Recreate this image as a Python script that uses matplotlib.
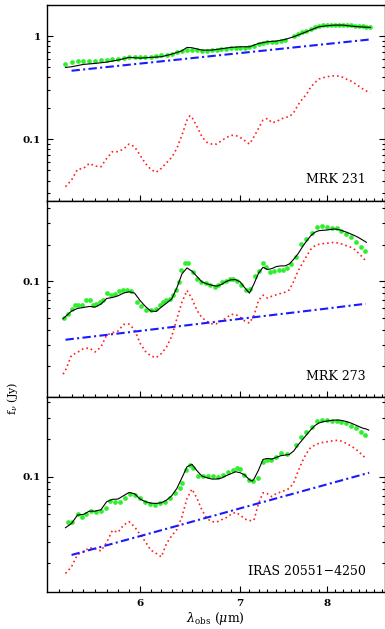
import matplotlib
matplotlib.use('Agg')
import numpy as np
import matplotlib.pyplot as plt
from matplotlib.ticker import FixedLocator, FuncFormatter, NullFormatter, LogLocator

########################### DATA ###########################
# MRK 231
mrk231_obs_wl = [5.35, 5.40, 5.45, 5.50, 5.55, 5.60, 5.65, 5.70, 5.75, 5.80, 5.85, 5.90, 5.95, 6.00,
                 6.05, 6.10, 6.15, 6.20, 6.25, 6.30, 6.35, 6.40, 6.45, 6.50, 6.55, 6.60, 6.65, 6.70,
                 6.75, 6.80, 6.85, 6.90, 6.95, 7.00, 7.05, 7.10, 7.15, 7.20, 7.25, 7.30, 7.35, 7.40,
                 7.45, 7.50, 7.60, 7.65, 7.70, 7.75, 7.80, 7.85, 7.90, 7.95, 8.00, 8.05, 8.10, 8.15,
                 8.20, 8.25, 8.30, 8.35, 8.40, 8.45, 8.50, 8.55]
mrk231_obs = [0.532, 0.560, 0.569, 0.573, 0.573, 0.577, 0.581, 0.590, 0.594, 0.603, 0.617, 0.622, 0.622, 0.622,
              0.626, 0.631, 0.640, 0.650, 0.660, 0.675, 0.695, 0.716, 0.738, 0.732, 0.727, 0.721, 0.721, 0.727,
              0.732, 0.743, 0.754, 0.760, 0.765, 0.771, 0.771, 0.782, 0.800, 0.831, 0.856, 0.869, 0.875, 0.882,
              0.895, 0.908, 1.007, 1.053, 1.093, 1.126, 1.169, 1.213, 1.250, 1.268, 1.278, 1.287, 1.287, 1.287,
              1.287, 1.278, 1.268, 1.259, 1.250, 1.240, 1.231, 1.213]
mrk231_wl = [5.35, 5.40, 5.50, 5.60, 5.70, 5.80, 5.90, 6.00, 6.10, 6.20, 6.30, 6.40, 6.45, 6.50,
             6.60, 6.70, 6.80, 6.90, 7.00, 7.10, 7.20, 7.30, 7.40, 7.50, 7.60, 7.70, 7.80, 7.90,
             8.00, 8.10, 8.20, 8.30, 8.40, 8.55]
mrk231_model = [0.497, 0.505, 0.532, 0.544, 0.560, 0.586, 0.622, 0.612, 0.622, 0.631, 0.669, 0.721, 0.777, 0.771,
                0.732, 0.732, 0.754, 0.777, 0.788, 0.788, 0.849, 0.882, 0.895, 0.928, 0.985, 1.061, 1.143, 1.231,
                1.259, 1.278, 1.278, 1.250, 1.231, 1.213]
mrk231_pah_wl = [5.35, 5.40, 5.45, 5.50, 5.55, 5.60, 5.65, 5.70, 5.75, 5.80, 5.85, 5.90, 5.95, 6.00,
                 6.05, 6.10, 6.15, 6.20, 6.25, 6.30, 6.35, 6.40, 6.45, 6.48, 6.50, 6.55, 6.60, 6.65,
                 6.70, 6.75, 6.80, 6.85, 6.90, 6.95, 7.00, 7.05, 7.10, 7.15, 7.20, 7.25, 7.30, 7.35,
                 7.40, 7.45, 7.50, 7.55, 7.60, 7.65, 7.70, 7.75, 7.80, 7.85, 7.90, 7.95, 8.00, 8.05,
                 8.10, 8.15, 8.20, 8.25, 8.30, 8.35, 8.40, 8.45, 8.50, 8.55]
mrk231_pah = [0.0348, 0.0404, 0.0513, 0.0524, 0.0586, 0.0552, 0.0544, 0.0655, 0.0760, 0.0760, 0.0806, 0.0901, 0.0849, 0.0705,
              0.0586, 0.0513, 0.0480, 0.0524, 0.0594, 0.0670, 0.0818, 0.110, 0.154, 0.1695, 0.163, 0.133, 0.106, 0.0935,
              0.0901, 0.0901, 0.0971, 0.1038, 0.1094, 0.1094, 0.1046, 0.0971, 0.0901, 0.106, 0.1277, 0.154, 0.1597, 0.145,
              0.1483, 0.157, 0.163, 0.166, 0.181, 0.215, 0.244, 0.272, 0.319, 0.353, 0.384, 0.395, 0.404, 0.410,
              0.413, 0.410, 0.398, 0.381, 0.367, 0.348, 0.328, 0.309, 0.294, 0.283]
mrk231_cont_wl = [5.40, 6.00, 7.00, 8.00, 8.55]
mrk231_cont = [0.462, 0.542, 0.685, 0.839, 0.928]

# MRK 273
mrk273_obs_wl = [5.339, 5.372, 5.400, 5.428, 5.456, 5.491, 5.520, 5.554, 5.582, 5.611, 5.640, 5.669, 5.704, 5.742,
                 5.771, 5.810, 5.845, 5.881, 5.921, 5.972, 6.012, 6.059, 6.106, 6.152, 6.184, 6.216, 6.248, 6.280,
                 6.312, 6.344, 6.370, 6.393, 6.429, 6.462, 6.508, 6.548, 6.593, 6.637, 6.678, 6.730, 6.764, 6.809,
                 6.851, 6.886, 6.921, 6.964, 7.011, 7.065, 7.108, 7.156, 7.200, 7.248, 7.285, 7.330, 7.379, 7.436,
                 7.482, 7.520, 7.570, 7.628, 7.687, 7.746, 7.818, 7.874, 7.935, 7.996, 8.058, 8.120, 8.174, 8.237,
                 8.301, 8.365, 8.429, 8.486]
mrk273_obs = [0.0494, 0.0533, 0.0593, 0.0632, 0.0632, 0.0640, 0.0703, 0.0694, 0.0632, 0.0644, 0.0673, 0.0703, 0.0797, 0.0773,
              0.0778, 0.0828, 0.0849, 0.0839, 0.0828, 0.0673, 0.0620, 0.0582, 0.0575, 0.0593, 0.0632, 0.0673, 0.0694, 0.0716,
              0.0763, 0.0839, 0.0981, 0.1239, 0.1413, 0.1404, 0.1185, 0.1045, 0.0981, 0.0963, 0.0922, 0.0904, 0.0922, 0.0981,
              0.1013, 0.1038, 0.1038, 0.1013, 0.0922, 0.0839, 0.0865, 0.1113, 0.1208, 0.1413, 0.1302, 0.1200, 0.1223, 0.1239,
              0.1239, 0.1278, 0.1387, 0.1573, 0.2023, 0.2223, 0.2473, 0.2771, 0.2860, 0.2806, 0.2736, 0.2736, 0.2602, 0.2443,
              0.2295, 0.2088, 0.1900, 0.1762]
mrk273_wl = [5.33, 5.40, 5.45, 5.50, 5.55, 5.60, 5.65, 5.70, 5.75, 5.80, 5.85, 5.90, 5.95, 6.00,
             6.05, 6.10, 6.15, 6.20, 6.25, 6.30, 6.35, 6.40, 6.45, 6.50, 6.55, 6.60, 6.65, 6.70,
             6.75, 6.80, 6.85, 6.90, 6.95, 7.00, 7.05, 7.10, 7.15, 7.20, 7.25, 7.30, 7.35, 7.40,
             7.45, 7.50, 7.55, 7.60, 7.65, 7.70, 7.75, 7.80, 7.85, 7.90, 7.95, 8.00, 8.05, 8.10,
             8.15, 8.20, 8.25, 8.30, 8.35, 8.40, 8.45, 8.50]
mrk273_model = [0.0491, 0.0568, 0.0597, 0.0608, 0.0620, 0.0612, 0.0648, 0.0721, 0.0734, 0.0758, 0.0798, 0.0818, 0.0798, 0.0694,
                0.0620, 0.0568, 0.0564, 0.0612, 0.0660, 0.0716, 0.0882, 0.1148, 0.1286, 0.1208, 0.1092, 0.0987, 0.0951, 0.0927,
                0.0910, 0.0939, 0.0994, 0.1026, 0.1031, 0.0987, 0.0882, 0.0798, 0.0951, 0.1163, 0.1302, 0.1246, 0.1270, 0.1319,
                0.1336, 0.1336, 0.1387, 0.1515, 0.1675, 0.1900, 0.2128, 0.2352, 0.2522, 0.2602, 0.2620, 0.2635, 0.2668, 0.2685,
                0.2652, 0.2586, 0.2522, 0.2443, 0.2367, 0.2280, 0.2182, 0.2088]
mrk273_pah_wl = [5.33, 5.35, 5.40, 5.45, 5.50, 5.55, 5.60, 5.65, 5.70, 5.75, 5.80, 5.85, 5.90, 5.95,
                 6.00, 6.05, 6.10, 6.15, 6.20, 6.25, 6.30, 6.35, 6.40, 6.45, 6.50, 6.55, 6.60, 6.65,
                 6.70, 6.75, 6.80, 6.85, 6.90, 6.95, 7.00, 7.05, 7.10, 7.15, 7.20, 7.25, 7.30, 7.35,
                 7.40, 7.45, 7.50, 7.55, 7.60, 7.65, 7.70, 7.75, 7.80, 7.85, 7.90, 7.95, 8.00, 8.05,
                 8.10, 8.15, 8.20, 8.25, 8.30, 8.35, 8.40, 8.45, 8.50]
mrk273_pah = [0.0172, 0.0185, 0.0246, 0.0260, 0.0279, 0.0282, 0.0262, 0.0288, 0.0361, 0.0377, 0.0389, 0.0441, 0.0444, 0.0399,
              0.0310, 0.0265, 0.0243, 0.0235, 0.0254, 0.0288, 0.0352, 0.0491, 0.0673, 0.0839, 0.0716, 0.0575, 0.0501, 0.0467,
              0.0447, 0.0447, 0.0476, 0.0497, 0.0533, 0.0533, 0.0507, 0.0470, 0.0452, 0.0523, 0.0694, 0.0768, 0.0726, 0.0753,
              0.0773, 0.0793, 0.0812, 0.0849, 0.0994, 0.1208, 0.1387, 0.1593, 0.1818, 0.1949, 0.2010, 0.2035, 0.2048, 0.2075,
              0.2088, 0.2048, 0.2010, 0.1949, 0.1900, 0.1818, 0.1697, 0.1573, 0.1449]
mrk273_cont_wl = [5.35, 6.00, 7.00, 8.00, 8.49]
mrk273_cont = [0.0330, 0.0390, 0.0490, 0.0596, 0.0652]

# IRAS 20551-4250
iras_obs_wl = [5.367, 5.400, 5.456, 5.491, 5.525, 5.568, 5.611, 5.654, 5.692, 5.727, 5.771, 5.816, 5.860, 5.906,
               5.951, 5.997, 6.043, 6.090, 6.137, 6.184, 6.232, 6.280, 6.328, 6.377, 6.403, 6.442, 6.475, 6.508,
               6.558, 6.609, 6.660, 6.711, 6.764, 6.815, 6.868, 6.921, 6.964, 6.999, 7.046, 7.100, 7.144, 7.192,
               7.248, 7.293, 7.342, 7.398, 7.455, 7.520, 7.628, 7.687, 7.746, 7.818, 7.874, 7.935, 7.996, 8.058,
               8.120, 8.174, 8.237, 8.301, 8.365, 8.429, 8.486]
iras_obs = [0.0434, 0.0434, 0.0497, 0.0476, 0.0500, 0.0528, 0.0522, 0.0528, 0.0562, 0.0640, 0.0629, 0.0629, 0.0669, 0.0720,
            0.0712, 0.0677, 0.0629, 0.0598, 0.0591, 0.0609, 0.0621, 0.0677, 0.0734, 0.0805, 0.0884, 0.1131, 0.1242, 0.1167,
            0.1019, 0.1019, 0.1006, 0.1006, 0.1000, 0.1031, 0.1083, 0.1131, 0.1167, 0.1146, 0.1031, 0.0940, 0.0923, 0.0982,
            0.1321, 0.1363, 0.1363, 0.1449, 0.1542, 0.1514, 0.1800, 0.2089, 0.2306, 0.2530, 0.2811, 0.2846, 0.2846, 0.2828,
            0.2811, 0.2777, 0.2692, 0.2578, 0.2484, 0.2306, 0.2168]
iras_wl = [5.35, 5.40, 5.45, 5.50, 5.55, 5.60, 5.65, 5.70, 5.75, 5.80, 5.85, 5.90, 5.95, 6.00,
           6.05, 6.10, 6.15, 6.20, 6.25, 6.30, 6.35, 6.40, 6.45, 6.50, 6.55, 6.60, 6.65, 6.70,
           6.75, 6.80, 6.85, 6.90, 6.95, 7.00, 7.05, 7.10, 7.13, 7.15, 7.20, 7.25, 7.30, 7.35,
           7.40, 7.45, 7.50, 7.55, 7.60, 7.65, 7.70, 7.75, 7.80, 7.85, 7.90, 7.95, 8.00, 8.05,
           8.10, 8.15, 8.20, 8.25, 8.30, 8.35, 8.40, 8.45, 8.50, 8.53]
iras_model = [0.0388, 0.0420, 0.0491, 0.0497, 0.0528, 0.0528, 0.0542, 0.0629, 0.0657, 0.0661, 0.0703, 0.0747, 0.0729, 0.0661,
              0.0629, 0.0613, 0.0609, 0.0617, 0.0648, 0.0703, 0.0805, 0.0982, 0.1204, 0.1257, 0.1117, 0.1012, 0.0982, 0.0958,
              0.0958, 0.0975, 0.1019, 0.1057, 0.1097, 0.1077, 0.1031, 0.0946, 0.0923, 0.0958, 0.1131, 0.1379, 0.1405, 0.1388,
              0.1432, 0.1477, 0.1495, 0.1514, 0.1611, 0.1800, 0.1975, 0.2168, 0.2378, 0.2578, 0.2709, 0.2777, 0.2811, 0.2846,
              0.2864, 0.2864, 0.2828, 0.2777, 0.2709, 0.2627, 0.2545, 0.2468, 0.2423, 0.2378]
iras_pah_wl = [5.35, 5.40, 5.45, 5.50, 5.55, 5.60, 5.65, 5.70, 5.75, 5.80, 5.85, 5.90, 5.95, 6.00,
               6.05, 6.10, 6.15, 6.20, 6.25, 6.30, 6.35, 6.40, 6.45, 6.50, 6.55, 6.60, 6.65, 6.70,
               6.75, 6.80, 6.85, 6.90, 6.95, 7.00, 7.05, 7.10, 7.15, 7.20, 7.25, 7.30, 7.35, 7.40,
               7.45, 7.50, 7.55, 7.60, 7.65, 7.70, 7.75, 7.80, 7.85, 7.90, 7.95, 8.00, 8.05, 8.10,
               8.15, 8.20, 8.25, 8.30, 8.35, 8.40, 8.45, 8.50]
iras_pah = [0.0166, 0.0188, 0.0236, 0.0248, 0.0268, 0.0263, 0.0252, 0.0295, 0.0369, 0.0356, 0.0408, 0.0434, 0.0395, 0.0343,
            0.0299, 0.0256, 0.0241, 0.0226, 0.0290, 0.0334, 0.0376, 0.0476, 0.0669, 0.0795, 0.0669, 0.0538, 0.0461, 0.0434,
            0.0431, 0.0450, 0.0467, 0.0497, 0.0516, 0.0491, 0.0456, 0.0442, 0.0447, 0.0609, 0.0743, 0.0729, 0.0690, 0.0734,
            0.0752, 0.0776, 0.0805, 0.0895, 0.1097, 0.1321, 0.1542, 0.1713, 0.1800, 0.1857, 0.1892, 0.1915, 0.1939, 0.1963,
            0.1963, 0.1915, 0.1845, 0.1767, 0.1692, 0.1591, 0.1495, 0.1379]
iras_cont_wl = [5.40, 6.00, 7.00, 8.00, 8.536]
iras_cont = [0.0234, 0.0332, 0.0556, 0.0868, 0.1077]

names = ['MRK 231', 'MRK 273', 'IRAS 20551\u22124250']
ylims = [(0.0255, 2.0), (0.0111, 0.459), (0.0117, 0.437)]

panels = [
    (mrk231_obs_wl, mrk231_obs, mrk231_wl, mrk231_model, mrk231_pah_wl, mrk231_pah, mrk231_cont_wl, mrk231_cont),
    (mrk273_obs_wl, mrk273_obs, mrk273_wl, mrk273_model, mrk273_pah_wl, mrk273_pah, mrk273_cont_wl, mrk273_cont),
    (iras_obs_wl, iras_obs, iras_wl, iras_model, iras_pah_wl, iras_pah, iras_cont_wl, iras_cont),
]

########################### PLOT ###########################
plt.rcParams['font.family'] = ['DejaVu Serif']
plt.rcParams['mathtext.fontset'] = 'dejavuserif'

W, H = 385, 629
fig = plt.figure(figsize=(W / 100, H / 100), dpi=100)

left = 47 / W
right = 384.5 / W
edges = [5, 200.7, 397.3, 592.3]    # pixel rows of panel borders

for i, (ow, of, mw, mf, pw, pf, cw, cf) in enumerate(panels):
    top = 1 - edges[i] / H
    bot = 1 - edges[i + 1] / H
    ax = fig.add_axes([left, bot, right - left, top - bot])

    ax.plot(ow, of, 'o', color='#2cf02c', markersize=3.4, markeredgewidth=0, zorder=2)
    ax.plot(mw, mf, color='black', linewidth=0.8, zorder=3)
    ax.plot(pw, pf, color='#ff2020', linewidth=1.2, dashes=(1, 1.8), zorder=2)
    ax.plot(cw, cf, color='#1a1aff', linewidth=1.5, dashes=(4, 1.6, 1, 1.6), zorder=4)

    ax.set_xscale('log')
    ax.set_yscale('log')
    ax.set_xlim(5.2, 8.74)
    ax.set_ylim(*ylims[i])

    ax.xaxis.set_major_locator(FixedLocator([6, 7, 8]))
    ax.xaxis.set_minor_locator(FixedLocator(np.arange(5.3, 8.75, 0.1)))
    ax.xaxis.set_minor_formatter(NullFormatter())
    if i == 2:
        ax.xaxis.set_major_formatter(FuncFormatter(lambda v, p: '%g' % v))
        ax.set_xlabel(r'$\lambda_{\rm obs}$ ($\mu$m)', fontsize=9, labelpad=2)
    else:
        ax.xaxis.set_major_formatter(NullFormatter())

    ax.yaxis.set_major_locator(LogLocator(base=10))
    ax.yaxis.set_minor_locator(LogLocator(base=10, subs=np.arange(2, 10)))
    ax.yaxis.set_major_formatter(FuncFormatter(lambda v, p: '%g' % v))
    ax.yaxis.set_minor_formatter(NullFormatter())

    ax.tick_params(which='both', direction='in', left=True, right=True, top=False, bottom=True,
                   labelsize=7.5, pad=4.5, width=0.8)
    ax.tick_params(which='major', axis='y', length=4.5)
    ax.tick_params(which='minor', axis='y', length=2.5)
    ax.tick_params(which='major', axis='x', length=4)
    ax.tick_params(which='minor', axis='x', length=2.2)
    for lab in ax.get_xticklabels() + ax.get_yticklabels():
        lab.set_fontweight('bold')
    for s in ax.spines.values():
        s.set_linewidth(1.0)

    ax.text(0.944, 0.09, names[i], transform=ax.transAxes, ha='right', va='baseline', fontsize=9)

fig.text(12 / W, 1 - 398 / H, r'f$_\nu$ (Jy)', rotation=90, ha='center', va='center', fontsize=8)

plt.savefig('out.png', dpi=100)
